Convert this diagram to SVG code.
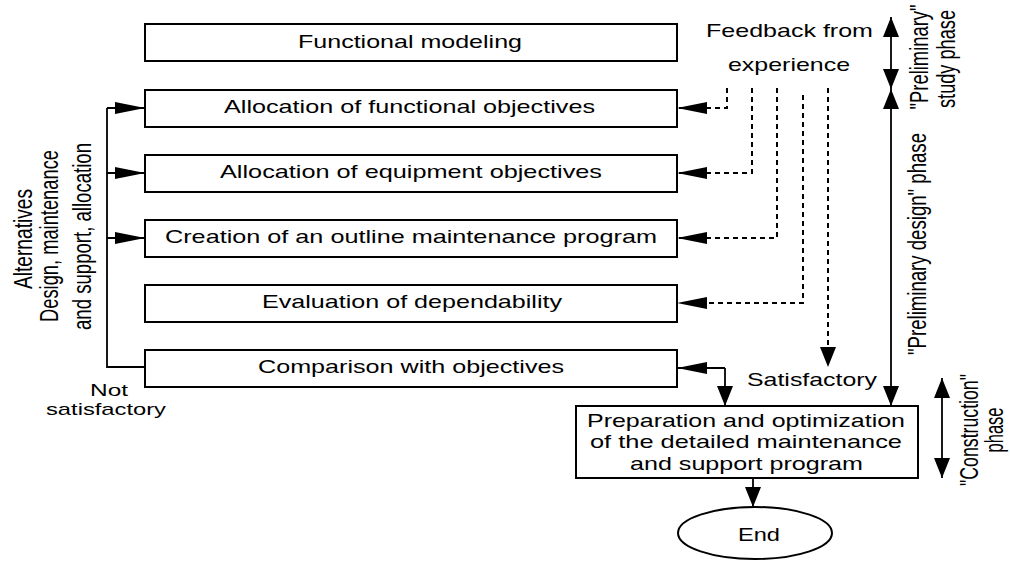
<svg xmlns="http://www.w3.org/2000/svg" width="1010" height="561" viewBox="0 0 1010 561">
<style>
.box{fill:#fff;stroke:#000;stroke-width:2}
.t{font-family:"Liberation Sans",Arial,sans-serif;font-size:19px;fill:#000}
.s{font-size:17px}
.ln{fill:none;stroke:#000;stroke-width:1.8}
.dl{fill:none;stroke:#000;stroke-width:2;stroke-dasharray:5,4}
</style>
<defs>
<marker id="aL" viewBox="0 0 30 12" refX="30" refY="6" markerWidth="30" markerHeight="12" markerUnits="userSpaceOnUse" orient="auto-start-reverse"><path d="M0,0 L30,6 L0,12 Z" fill="#000"/></marker>
<marker id="aV" viewBox="0 0 20 16" refX="20" refY="8" markerWidth="20" markerHeight="16" markerUnits="userSpaceOnUse" orient="auto-start-reverse"><path d="M0,0 L20,8 L0,16 Z" fill="#000"/></marker>
</defs>
<rect width="1010" height="561" fill="#fff"/>
<g id="connectors">
<path class="ln" d="M145,367 H107 V108"/>
<path class="ln" d="M107,108 H145" marker-end="url(#aL)"/>
<path class="ln" d="M107,173 H145" marker-end="url(#aL)"/>
<path class="ln" d="M107,238 H145" marker-end="url(#aL)"/>
<path class="dl" d="M727,88 V108 H677" marker-end="url(#aL)"/>
<path class="dl" d="M752,88 V173 H677" marker-end="url(#aL)"/>
<path class="dl" d="M777,88 V238 H677" marker-end="url(#aL)"/>
<path class="dl" d="M803,95 V303 H677" marker-end="url(#aL)"/>
<path class="dl" d="M828,88 V367" marker-end="url(#aV)"/>
<path class="ln" d="M725,368 H677" marker-end="url(#aL)"/>
<path class="ln" d="M725,368 V406" marker-end="url(#aV)"/>
<path class="ln" d="M891,17 V89" marker-start="url(#aV)" marker-end="url(#aV)"/>
<path class="ln" d="M891,89 V406" marker-start="url(#aV)" marker-end="url(#aV)"/>
<path class="ln" d="M942,378 V478" marker-start="url(#aV)" marker-end="url(#aV)"/>
<path class="ln" d="M753,478 V507" marker-end="url(#aV)"/>
</g>
<g id="n1"><rect class="box" x="145" y="24" width="532" height="37"/><text class="t" x="298" y="48" textLength="224" lengthAdjust="spacingAndGlyphs">Functional modeling</text></g>
<g id="n2"><rect class="box" x="145" y="90" width="532" height="37"/><text class="t" x="224" y="113" textLength="371" lengthAdjust="spacingAndGlyphs">Allocation of functional objectives</text></g>
<g id="n3"><rect class="box" x="145" y="155" width="532" height="37"/><text class="t" x="220" y="178" textLength="382" lengthAdjust="spacingAndGlyphs">Allocation of equipment objectives</text></g>
<g id="n4"><rect class="box" x="145" y="220" width="532" height="37"/><text class="t" x="165" y="243" textLength="492" lengthAdjust="spacingAndGlyphs">Creation of an outline maintenance program</text></g>
<g id="n5"><rect class="box" x="145" y="285" width="532" height="37"/><text class="t" x="262" y="308" textLength="300" lengthAdjust="spacingAndGlyphs">Evaluation of dependability</text></g>
<g id="n6"><rect class="box" x="145" y="350" width="532" height="37"/><text class="t" x="258" y="373" textLength="306" lengthAdjust="spacingAndGlyphs">Comparison with objectives</text></g>
<g id="n7"><rect class="box" x="576" y="406" width="342" height="72"/>
<text class="t" x="587" y="427" textLength="318" lengthAdjust="spacingAndGlyphs">Preparation and optimization</text>
<text class="t" x="590" y="448" textLength="312" lengthAdjust="spacingAndGlyphs">of the detailed maintenance</text>
<text class="t" x="630" y="470" textLength="233" lengthAdjust="spacingAndGlyphs">and support program</text></g>
<g id="n8"><ellipse cx="755" cy="533" rx="77" ry="26" fill="#fff" stroke="#000" stroke-width="2"/><text class="t" x="738" y="541" textLength="42" lengthAdjust="spacingAndGlyphs">End</text></g>
<g id="labels">
<text class="t" x="706" y="37" textLength="167" lengthAdjust="spacingAndGlyphs">Feedback from</text>
<text class="t" x="728" y="71" textLength="122" lengthAdjust="spacingAndGlyphs">experience</text>
<text class="t" x="747" y="386" textLength="130" lengthAdjust="spacingAndGlyphs">Satisfactory</text>
<text class="t s" x="90" y="396" textLength="38" lengthAdjust="spacingAndGlyphs">Not</text>
<text class="t s" x="46" y="415" textLength="120" lengthAdjust="spacingAndGlyphs">satisfactory</text>
<text class="t" text-anchor="middle" transform="translate(32,239) scale(1.36,1) rotate(-90)" textLength="100" lengthAdjust="spacingAndGlyphs">Alternatives</text>
<text class="t" text-anchor="middle" transform="translate(58,236) scale(1.36,1) rotate(-90)" textLength="172" lengthAdjust="spacingAndGlyphs">Design, maintenance</text>
<text class="t" text-anchor="middle" transform="translate(91,236.5) scale(1.36,1) rotate(-90)" textLength="187" lengthAdjust="spacingAndGlyphs">and support, allocation</text>
<text class="t" text-anchor="middle" transform="translate(928,57) scale(1.36,1) rotate(-90)" textLength="105" lengthAdjust="spacingAndGlyphs">"Preliminary"</text>
<text class="t" text-anchor="middle" transform="translate(955,59) scale(1.36,1) rotate(-90)" textLength="98" lengthAdjust="spacingAndGlyphs">study phase</text>
<text class="t" text-anchor="middle" transform="translate(926,244) scale(1.36,1) rotate(-90)" textLength="222" lengthAdjust="spacingAndGlyphs">"Preliminary design" phase</text>
<text class="t" text-anchor="middle" transform="translate(978,430) scale(1.36,1) rotate(-90)" textLength="112" lengthAdjust="spacingAndGlyphs">"Construction"</text>
<text class="t" text-anchor="middle" transform="translate(1003,430) scale(1.36,1) rotate(-90)" textLength="45" lengthAdjust="spacingAndGlyphs">phase</text>
</g>
</svg>
